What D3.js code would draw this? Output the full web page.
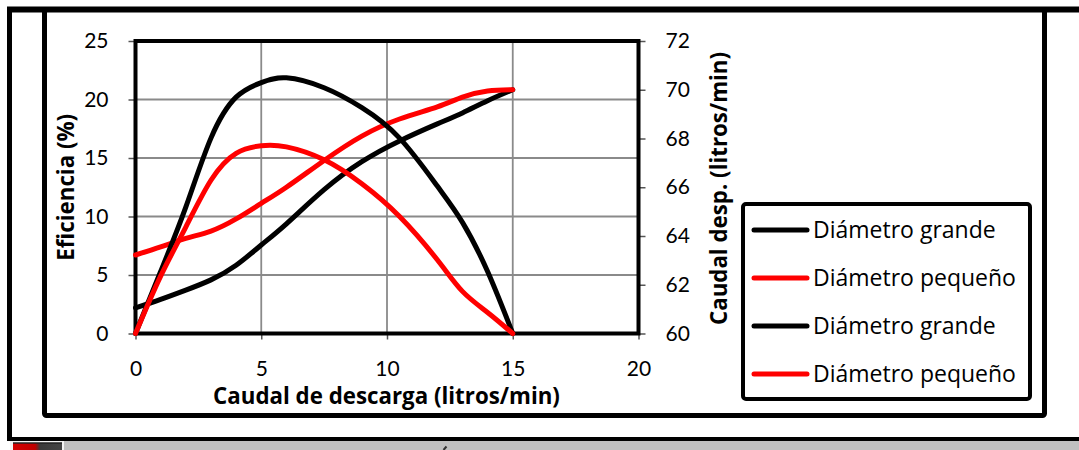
<!DOCTYPE html>
<html>
<head>
<meta charset="utf-8">
<script src="https://cdn.jsdelivr.net/npm/d3@7"></script>
<style>
  html, body { margin: 0; padding: 0; background: #fff; }
  svg { display: block; }
  text { font-family: "Open Sans", Lato, sans-serif; fill: #000; }
</style>
</head>
<body>
<svg id="chart" width="1079" height="450"></svg>
<script>
// Caudal de descarga (litros/min)
const caudal = [0, 1, 2, 3, 4, 5, 6, 7.5, 9, 10.5, 12, 13, 14, 15];

// Eficiencia (%) — eje izquierdo
const eficienciaGrande  = [0, 5.3, 10.8, 16.7, 20.2, 21.45, 21.85, 21.0, 19.3, 16.7, 12.6, 9.5, 5.3, 0];
const eficienciaPequeno = [0, 4.9, 9.1, 13.1, 15.4, 16.05, 15.95, 14.85, 12.8, 10.0, 6.3, 3.6, 1.8, 0];

// Caudal desplazado (litros/min) — eje derecho
const despGrande  = [61.05, 61.4, 61.78, 62.2, 62.8, 63.63, 64.5, 65.9, 67.05, 67.9, 68.6, 69.05, 69.55, 70.0];
const despPequeno = [63.22, 63.55, 63.9, 64.2, 64.7, 65.34, 66.0, 67.1, 68.1, 68.8, 69.3, 69.7, 69.95, 70.0];

const xTicks = [0, 5, 10, 15, 20];
const yLeftTicks = [0, 5, 10, 15, 20, 25];
const yRightTicks = [60, 62, 64, 66, 68, 70, 72];

const legendLabels = ["Diámetro grande", "Diámetro pequeño", "Diámetro grande", "Diámetro pequeño"];
const legendColors = ["#000000", "#ff0000", "#000000", "#ff0000"];

const svg = d3.select("#chart");

// Frame around the whole figure
svg.append("rect").attr("x", 0).attr("y", 0).attr("width", 1079).attr("height", 450).attr("fill", "#fff");
svg.append("line").attr("x1", 7).attr("x2", 1079).attr("y1", 9.5).attr("y2", 9.5)
  .attr("stroke", "#000").attr("stroke-width", 6);
svg.append("line").attr("x1", 9.5).attr("x2", 9.5).attr("y1", 7).attr("y2", 440)
  .attr("stroke", "#000").attr("stroke-width", 5);
svg.append("line").attr("x1", 7).attr("x2", 1079).attr("y1", 439).attr("y2", 439)
  .attr("stroke", "#000").attr("stroke-width", 4);

// Caption strip at the bottom
svg.append("rect").attr("x", 64).attr("y", 441).attr("width", 1015).attr("height", 9).attr("fill", "#c0c0c0");
svg.append("rect").attr("x", 10).attr("y", 441).attr("width", 54).attr("height", 9).attr("fill", "#f4f4f4");
const iconGrad = svg.append("defs").append("linearGradient").attr("id", "iconGrad")
  .attr("x1", "0%").attr("x2", "100%");
iconGrad.append("stop").attr("offset", "0%").attr("stop-color", "#d40000");
iconGrad.append("stop").attr("offset", "45%").attr("stop-color", "#c00000");
iconGrad.append("stop").attr("offset", "55%").attr("stop-color", "#3a3a3a");
iconGrad.append("stop").attr("offset", "100%").attr("stop-color", "#444");
svg.append("rect").attr("x", 13).attr("y", 443).attr("width", 49).attr("height", 7).attr("fill", "url(#iconGrad)");
svg.append("line").attr("x1", 13).attr("x2", 62).attr("y1", 443).attr("y2", 443).attr("stroke", "#222").attr("stroke-width", 1.5);
// top of the caption's first accented letter
svg.append("path").attr("d", "M443.5,450 L446.5,446.5").attr("stroke", "#333").attr("stroke-width", 2);

// Chart area border
svg.append("rect").attr("x", 44.5).attr("y", 9.5).attr("width", 1000).attr("height", 406)
  .attr("rx", 2).attr("fill", "none").attr("stroke", "#000").attr("stroke-width", 5);

// Plot scales
const x = d3.scaleLinear().domain([0, 20]).range([135.5, 638.5]);
const yL = d3.scaleLinear().domain([0, 25]).range([333.5, 41]);
const yR = d3.scaleLinear().domain([60, 72]).range([333.5, 41]);

// Gridlines
const grid = svg.append("g");
grid.selectAll(".gx").data(xTicks.slice(1, -1)).join("line")
  .attr("x1", d => x(d)).attr("x2", d => x(d)).attr("y1", yL(25)).attr("y2", yL(0))
  .attr("stroke", "#8a8a8a").attr("stroke-width", 1.8);
grid.selectAll(".gy").data(yLeftTicks.slice(1, -1)).join("line")
  .attr("x1", x(0)).attr("x2", x(20)).attr("y1", d => yL(d)).attr("y2", d => yL(d))
  .attr("stroke", "#8a8a8a").attr("stroke-width", 1.8);

// Axes
const axisStyle = g => {
  g.select(".domain").remove();
  g.selectAll(".tick line").attr("stroke", "#555").attr("stroke-width", 1.5);
  g.selectAll(".tick text").style("font-size", "21px").style("font-family", "Lato, sans-serif").attr("fill", "#000");
};
svg.append("g").attr("transform", `translate(0,${yL(0)})`)
  .call(d3.axisBottom(x).tickValues(xTicks).tickSize(6).tickPadding(22).tickFormat(d3.format("d")))
  .call(axisStyle);
svg.append("g").attr("transform", `translate(${x(0)},0)`)
  .call(d3.axisLeft(yL).tickValues(yLeftTicks).tickSize(7).tickPadding(20).tickFormat(d3.format("d")))
  .call(axisStyle);
svg.append("g").attr("transform", `translate(${x(20)},0)`)
  .call(d3.axisRight(yR).tickValues(yRightTicks).tickSize(7).tickPadding(20).tickFormat(d3.format("d")))
  .call(axisStyle);

// Plot border
svg.append("rect").attr("x", x(0)).attr("y", yL(25)).attr("width", x(20) - x(0)).attr("height", yL(0) - yL(25))
  .attr("fill", "none").attr("stroke", "#000").attr("stroke-width", 4);

// Series
const series = [
  { values: despGrande,        scale: yR, color: "#000000" },
  { values: despPequeno,       scale: yR, color: "#ff0000" },
  { values: eficienciaGrande,  scale: yL, color: "#000000" },
  { values: eficienciaPequeno, scale: yL, color: "#ff0000" }
];
series.forEach(s => {
  const line = d3.line()
    .x((d, i) => x(caudal[i]))
    .y(d => s.scale(d))
    .curve(d3.curveNatural);
  svg.append("path").datum(s.values).attr("d", line)
    .attr("fill", "none").attr("stroke", s.color).attr("stroke-width", 5)
    .attr("stroke-linecap", "round").attr("stroke-linejoin", "round");
});

// Axis titles
svg.append("text").attr("x", 386.5).attr("y", 404).attr("text-anchor", "middle")
  .style("font-size", "22.3px").style("font-weight", "bold").text("Caudal de descarga (litros/min)");
svg.append("text").attr("transform", `translate(74,${(yL(0) + yL(25)) / 2}) rotate(-90)`).attr("text-anchor", "middle")
  .style("font-size", "22.3px").style("font-weight", "bold").text("Eficiencia (%)");
svg.append("text").attr("transform", `translate(727,188.5) rotate(-90)`).attr("text-anchor", "middle")
  .style("font-size", "22.3px").style("font-weight", "bold").text("Caudal desp. (litros/min)");

// Legend
const legend = svg.append("g");
legend.append("rect").attr("x", 743).attr("y", 204).attr("width", 287).attr("height", 195).attr("rx", 3)
  .attr("fill", "#fff").attr("stroke", "#000").attr("stroke-width", 4);
const rows = legend.selectAll(".row").data(legendLabels).join("g")
  .attr("transform", (d, i) => `translate(0,${230 + i * 48})`);
rows.append("line").attr("x1", 754).attr("x2", 807).attr("y1", 0).attr("y2", 0)
  .attr("stroke", (d, i) => legendColors[i]).attr("stroke-width", 5).attr("stroke-linecap", "round");
rows.append("text").attr("x", 813).attr("y", 8).style("font-size", "23px").text(d => d);
</script>
</body>
</html>
